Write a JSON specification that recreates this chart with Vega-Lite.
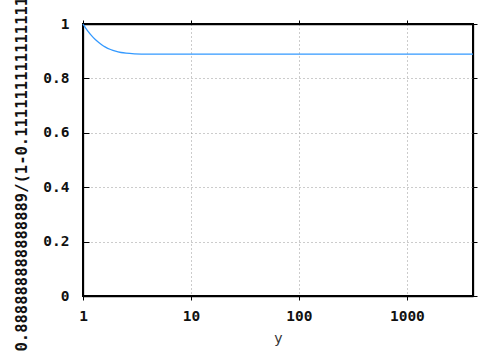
{
  "$schema": "https://vega.github.io/schema/vega-lite/v6.json",
  "width": 390,
  "height": 272,
  "autosize": "none",
  "padding": {"left": 83, "top": 24, "right": 25, "bottom": 58},
  "background": "white",
  "config": {
    "view": {"stroke": "#000000", "strokeWidth": 2},
    "axis": {"labelFont": "DejaVu Sans Mono", "labelFontWeight": "bold", "labelFontSize": 14.5, "labelColor": "#111", "tickColor": "#000000", "tickWidth": 1, "domainColor": "#000000", "domainWidth": 1.3}
  },
  "data": {"values": [
    {"y": 1, "f": 1.0},
    {"y": 1.1, "f": 0.97592},
    {"y": 1.2, "f": 0.95744},
    {"y": 1.3, "f": 0.94309},
    {"y": 1.4, "f": 0.93188},
    {"y": 1.5, "f": 0.92308},
    {"y": 1.6, "f": 0.91613},
    {"y": 1.8, "f": 0.90625},
    {"y": 2, "f": 0.9},
    {"y": 2.25, "f": 0.89527},
    {"y": 2.5, "f": 0.89256},
    {"y": 3, "f": 0.89011},
    {"y": 3.5, "f": 0.8893},
    {"y": 4, "f": 0.88903},
    {"y": 5, "f": 0.88891},
    {"y": 10, "f": 0.888889},
    {"y": 100, "f": 0.888889},
    {"y": 1000, "f": 0.888889},
    {"y": 4096, "f": 0.888889}
  ]},
  "resolve": {"axis": {"x": "independent", "y": "independent"}},
  "layer": [
    {
      "mark": {"type": "line", "color": "#3399ff", "strokeWidth": 1.3, "interpolate": "monotone"},
      "encoding": {
        "x": {"field": "y", "type": "quantitative",
          "scale": {"type": "log", "domain": [1, 4096], "nice": false},
          "axis": {"orient": "bottom", "values": [1, 10, 100, 1000], "format": "d", "ticks": true, "tickSize": 4, "domain": true, "grid": true,
            "gridColor": "#999", "gridDash": [1, 3], "gridWidth": 1, "labelPadding": 9, "labelDx": 3, "labelFlush": false,
            "title": "y", "titleFont": "DejaVu Sans", "titleFontWeight": "normal", "titleFontSize": 14, "titleColor": "#333", "titlePadding": 9}},
        "y": {"field": "f", "type": "quantitative",
          "scale": {"domain": [0, 1], "nice": false, "zero": true},
          "axis": {"orient": "left", "values": [0, 0.2, 0.4, 0.6, 0.8, 1], "format": "~g", "ticks": true, "tickSize": -6, "domain": true, "grid": true,
            "gridColor": "#999", "gridDash": [1, 3], "gridWidth": 1, "labelPadding": 20, "labelFlush": false,
            "title": "0.888888888888889/(1-0.111111111111111**y)", "titleFont": "DejaVu Sans Mono", "titleFontWeight": "bold",
            "titleFontSize": 15.5, "titleColor": "#111", "titleLimit": 2000, "titleX": -57, "titleY": 131, "titleBaseline": "alphabetic"}}
      }
    },
    {
      "mark": {"type": "line", "strokeOpacity": 0},
      "encoding": {
        "x": {"field": "y", "type": "quantitative", "scale": {"type": "log", "domain": [1, 4096], "nice": false},
          "axis": {"orient": "top", "values": [1, 10, 100, 1000], "labels": false, "grid": false, "domain": true, "tickSize": 4, "title": null}},
        "y": {"field": "f", "type": "quantitative", "scale": {"domain": [0, 1], "nice": false},
          "axis": {"orient": "right", "values": [0, 0.2, 0.4, 0.6, 0.8, 1], "labels": false, "grid": false, "domain": true, "tickSize": 4, "title": null}}
      }
    }
  ]
}
